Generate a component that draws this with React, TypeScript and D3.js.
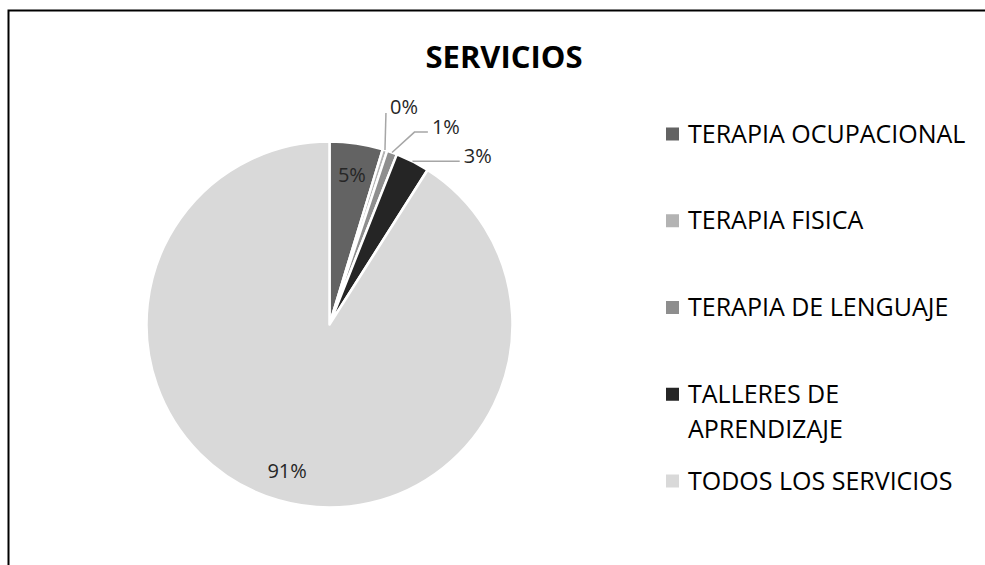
import React from "react";
import * as d3 from "d3";

const categories = [
  "TERAPIA OCUPACIONAL",
  "TERAPIA FISICA",
  "TERAPIA DE LENGUAJE",
  "TALLERES DE APRENDIZAJE",
  "TODOS LOS SERVICIOS",
];
const values = [4.7, 0.4, 0.9, 3.0, 91.0];
const colors = ["#636363", "#b3b3b3", "#8e8e8e", "#252525", "#d9d9d9"];
const legendLines = [
  ["TERAPIA OCUPACIONAL"],
  ["TERAPIA FISICA"],
  ["TERAPIA DE LENGUAJE"],
  ["TALLERES DE", "APRENDIZAJE"],
  ["TODOS LOS SERVICIOS"],
];
const title = "SERVICIOS";

// layout (not data)
const W = 985;
const H = 565;
const CX = 329.5;
const CY = 324.5;
const R = 183;
const FONT = "'Open Sans', sans-serif";
// outside label placement: polar angle (deg) and radius, for small slices
const outsideLayout: Record<number, { ang: number; r: number; vertical?: boolean }> = {
  1: { ang: 18.9, r: 230, vertical: true },
  2: { ang: 30.4, r: 230 },
  3: { ang: 41.2, r: 225 },
};

export default function App() {
  const pie = d3.pie<number>().sort(null).value((d) => d);
  const arcs = pie(values);
  const arc = d3.arc<d3.PieArcDatum<number>>().innerRadius(0).outerRadius(R);
  const inner = d3.arc<d3.PieArcDatum<number>>().innerRadius(152).outerRadius(152);
  const total = d3.sum(values);
  const fmt = (v: number) => `${Math.round((v / total) * 100)}%`;

  const polar = (angDeg: number, r: number) => {
    const a = (angDeg * Math.PI) / 180;
    return [CX + r * Math.sin(a), CY - r * Math.cos(a)];
  };

  const legendY = d3.scaleLinear().domain([0, 4]).range([134, 481]);

  return (
    <svg
      width={W}
      height={H}
      style={{ position: "absolute", left: 0, top: 0, background: "#fff" }}
      fontFamily={FONT}
    >
      <rect x={0} y={0} width={W} height={H} fill="#fff" />
      <path d={`M8.5,${H + 5} V10.5 H${W + 5}`} fill="none" stroke="#000" strokeWidth={2} />
      <text x={504} y={68} textAnchor="middle" fontSize={31} fontWeight="bold" fill="#000">
        {title}
      </text>
      <g transform={`translate(${CX},${CY})`}>
        {arcs.map((a, i) => (
          <path key={i} d={arc(a) || ""} fill={colors[i]} stroke="#fff" strokeWidth={2.5} strokeLinejoin="round" />
        ))}
      </g>
      {arcs.map((a, i) => {
        const lay = outsideLayout[i];
        if (!lay) {
          const [x, y] = inner.centroid(a);
          return (
            <text key={i} x={CX + x} y={CY + y} textAnchor="middle" dominantBaseline="central" fontSize={20} fill="#262626">
              {fmt(a.value)}
            </text>
          );
        }
        const mid = ((a.startAngle + a.endAngle) / 2) * (180 / Math.PI);
        const [ax, ay] = polar(mid, R);
        const [lx, ly] = polar(lay.ang, lay.r);
        const halfW = 14;
        let pts: number[][];
        if (lay.vertical) {
          pts = [
            [ax, ay],
            [ax + 1, ly + 6],
          ];
        } else {
          const ex = lx - halfW - 4;
          const ey = ly + 6;
          const elbowX = Math.min(ex, ax + Math.abs(ey - ay) * 1.1);
          pts = [
            [ax, ay],
            [elbowX, ey],
            [ex, ey],
          ];
        }
        return (
          <g key={i}>
            <polyline points={pts.map((p) => p.join(",")).join(" ")} fill="none" stroke="#a6a6a6" strokeWidth={1.5} />
            <text x={lx} y={ly} textAnchor="middle" dominantBaseline="central" fontSize={20} fill="#262626">
              {fmt(a.value)}
            </text>
          </g>
        );
      })}
      {categories.map((c, i) => {
        const y = legendY(i);
        return (
          <g key={c}>
            <rect x={666} y={y - 6.5} width={13} height={13} fill={colors[i]} />
            {legendLines[i].map((line, j) => (
              <text key={j} x={688} y={y + 8.5 + j * 35} fontSize={25} fill="#000">
                {line}
              </text>
            ))}
          </g>
        );
      })}
    </svg>
  );
}
